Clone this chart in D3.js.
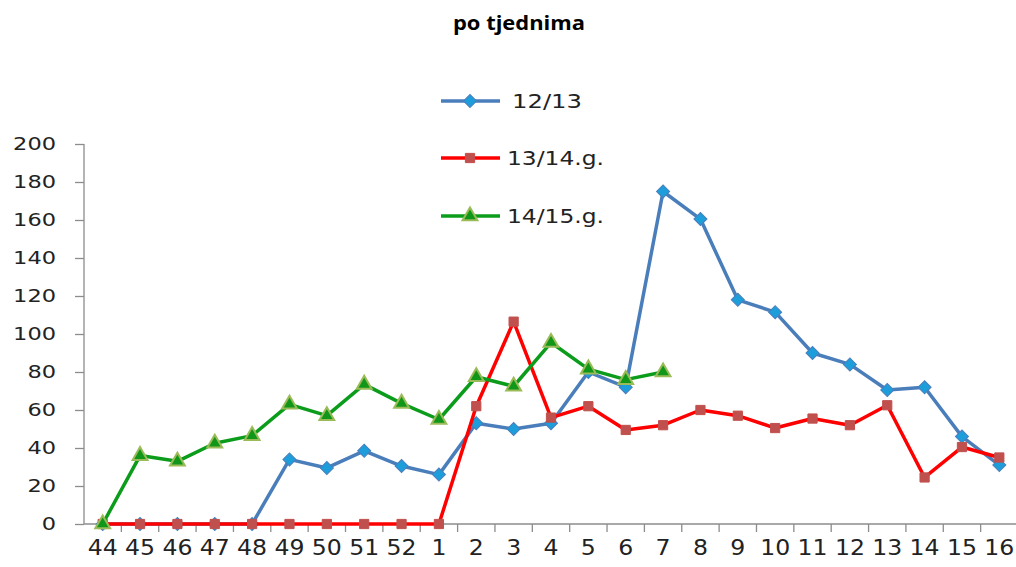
<!DOCTYPE html>
<html>
<head>
<meta charset="utf-8">
<script src="https://cdn.jsdelivr.net/npm/d3@7"></script>
<style>
  body { margin: 0; background: #fff; }
  .tick text { font-family: "DejaVu Sans", Verdana, sans-serif; fill: #222; }
</style>
</head>
<body>
<script>
// week labels (season runs over new year)
var weeks = ["44","45","46","47","48","49","50","51","52","1","2","3","4","5","6","7","8","9","10","11","12","13","14","15","16"];
var yTicks = [0, 20, 40, 60, 80, 100, 120, 140, 160, 180, 200];

var s1213 = [0,0,0,0,0,34,29.5,38.5,30.5,26,53,50,53,80,72,175,160.5,118,111.5,90,84,70.5,72,46,31];
var s1314 = [0,0,0,0,0,0,0,0,0,0,62,106.5,56,62,49.5,52,60,57,50.5,55.5,52,62.5,24.5,40.5,35];
var s1415 = [0,36,33,42.5,46.5,63,57,73.5,63.5,55,77.5,72.5,95.5,81.5,76,80];

var seriesNames = ["12/13", "13/14.g.", "14/15.g."];

var svgWidth = 1016;
var svgHeight = 567;

var margin = { top: 144, right: -2, bottom: 43, left: 84 };
var chartWidth = svgWidth - margin.left - margin.right;
var chartHeight = svgHeight - margin.top - margin.bottom;

var svg = d3.select("body")
  .append("svg")
  .attr("width", svgWidth)
  .attr("height", svgHeight);

svg.append("text")
  .attr("x", 453)
  .attr("y", 30)
  .attr("textLength", 132)
  .attr("lengthAdjust", "spacingAndGlyphs")
  .style("font-family", "'Open Sans', sans-serif")
  .style("font-weight", "bold")
  .style("font-size", "20px")
  .text("po tjednima");

var chartGroup = svg.append("g")
  .attr("transform", `translate(${margin.left}, ${margin.top})`);

var xScale = d3.scaleBand()
  .domain(weeks)
  .range([0, chartWidth]);

var yScale = d3.scaleLinear()
  .domain([0, 200])
  .range([chartHeight, 0]);

// y axis
var leftAxis = d3.axisLeft(yScale).tickValues(yTicks).tickSize(9).tickPadding(19);
var yAxisG = chartGroup.append("g").call(leftAxis);
yAxisG.selectAll(".tick text")
  .style("font-size", "18px")
  .attr("textLength", d => 14.3 * String(d).length)
  .attr("lengthAdjust", "spacingAndGlyphs");

// x axis, ticks between categories
var bottomAxis = d3.axisBottom(xScale).tickSize(0).tickPadding(15);
var xAxisG = chartGroup.append("g")
  .attr("transform", `translate(0, ${chartHeight})`)
  .call(bottomAxis);
xAxisG.selectAll(".tick text")
  .style("font-size", "22px")
  .attr("textLength", d => 15 * d.length)
  .attr("lengthAdjust", "spacingAndGlyphs");

xAxisG.selectAll(".sep")
  .data(weeks)
  .enter()
  .append("line")
  .attr("class", "sep")
  .attr("x1", d => xScale(d) + xScale.bandwidth())
  .attr("x2", d => xScale(d) + xScale.bandwidth())
  .attr("y1", 0)
  .attr("y2", 8);

[yAxisG, xAxisG].forEach(g => {
  g.select(".domain").attr("stroke", "#8c8c8c").attr("stroke-width", 1.3);
  g.selectAll("line").attr("stroke", "#8c8c8c").attr("stroke-width", 1.3);
});
yAxisG.select(".domain").attr("d", `M0,${chartHeight}V0`);
xAxisG.select(".domain").attr("d", `M0,0H${chartWidth}`);

var cx = d => xScale(d) + xScale.bandwidth() / 2;

var styles = [
  { line: "#4a7ebb", fill: "#1e9ddb", stroke: "#4a7ebb", sym: d3.symbolSquare, size: 85, rot: 45, sw: 1 },
  { line: "#ff0000", fill: "#c0504d", stroke: "#c0504d", sym: d3.symbolSquare, size: 85, rot: 0, sw: 1 },
  { line: "#0c9c1c", fill: "#109618", stroke: "#9bbb59", sym: d3.symbolTriangle, size: 95, rot: 0, sw: 2 }
];

var allSeries = [s1213, s1314, s1415];

var drawLine = d3.line()
  .x((v, i) => cx(weeks[i]))
  .y(v => yScale(v));

allSeries.forEach((vals, k) => {
  var st = styles[k];
  chartGroup.append("path")
    .datum(vals)
    .attr("fill", "none")
    .attr("stroke", st.line)
    .attr("stroke-width", 3.5)
    .attr("stroke-linejoin", "round")
    .attr("d", drawLine);

  chartGroup.selectAll(".m" + k)
    .data(vals)
    .enter()
    .append("path")
    .attr("class", "m" + k)
    .attr("transform", (v, i) => `translate(${cx(weeks[i])}, ${yScale(v)}) rotate(${st.rot})`)
    .attr("d", d3.symbol().type(st.sym).size(st.size))
    .attr("fill", st.fill)
    .attr("stroke", st.stroke)
    .attr("stroke-width", st.sw);
});

// legend
var legendY = [101, 158, 216];
var legendTextX = [512, 507, 507];
var legendTextW = [70, 97, 97];
seriesNames.forEach((name, k) => {
  var st = styles[k];
  var g = svg.append("g").attr("transform", `translate(0, ${legendY[k]})`);
  g.append("line")
    .attr("x1", 441).attr("x2", 500)
    .attr("y1", 0).attr("y2", 0)
    .attr("stroke", st.line)
    .attr("stroke-width", 3.5);
  g.append("path")
    .attr("transform", `translate(470, 0) rotate(${st.rot})`)
    .attr("d", d3.symbol().type(st.sym).size(st.size))
    .attr("fill", st.fill)
    .attr("stroke", st.stroke)
    .attr("stroke-width", st.sw);
  g.append("text")
    .attr("x", legendTextX[k])
    .attr("y", 7)
    .attr("textLength", legendTextW[k])
    .attr("lengthAdjust", "spacingAndGlyphs")
    .style("font-family", "'DejaVu Sans', Verdana, sans-serif")
    .style("font-size", "20px")
    .style("fill", "#222")
    .text(name);
});
</script>
</body>
</html>
